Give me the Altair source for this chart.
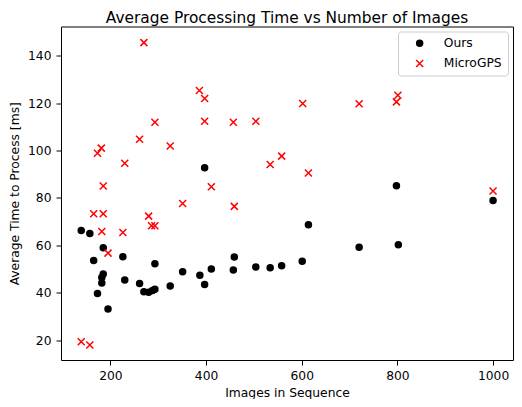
import altair as alt
import pandas as pd

ours_x = [139, 157, 165, 173, 182, 182, 185, 185, 195, 226, 230, 261, 270, 280, 288, 293, 293,
          325, 351, 387, 397, 397, 411, 457, 459, 504, 534, 558, 601, 614, 720, 798, 802, 1000]
ours_y = [66.2, 65.0, 53.6, 39.7, 46.4, 44.1, 59.0, 47.9, 33.1, 55.2, 45.3, 43.9, 40.4, 40.2, 40.9, 41.4, 52.2,
          42.8, 48.8, 47.4, 43.4, 92.7, 50.0, 49.6, 55.1, 50.8, 50.5, 51.4, 53.3, 68.7, 59.2, 85.1, 60.2, 78.9]

gps_x = [139, 157, 165, 173, 181, 182, 185, 185, 195, 226, 230, 261, 270, 280, 286, 293, 293,
         325, 351, 386, 397, 397, 411, 457, 459, 504, 534, 558, 602, 614, 720, 798, 801, 1000]
gps_y = [19.3, 17.9, 73.3, 98.8, 101.0, 65.8, 85.0, 73.3, 56.7, 65.4, 94.6, 104.7, 145.5, 72.3, 68.2, 68.2, 111.9,
         101.9, 77.6, 125.3, 121.9, 112.3, 84.7, 111.9, 76.4, 112.3, 94.1, 97.6, 119.8, 90.5, 119.7, 120.5, 123.3, 82.9]

series = ["Ours", "MicroGPS"]
x_ticks = [200, 400, 600, 800, 1000]
y_ticks = [20, 40, 60, 80, 100, 120, 140]

df = pd.concat([
    pd.DataFrame({"images": ours_x, "time": ours_y, "series": "Ours", "order": 0}),
    pd.DataFrame({"images": gps_x, "time": gps_y, "series": "MicroGPS", "order": 1}),
])

FONT = "DejaVu Sans"
FS = 12.3
legend = alt.Legend(title=None, orient="top-right", offset=5, strokeColor="#cccccc",
                    fillColor="white", cornerRadius=3, padding=5.5, labelFontSize=FS,
                    labelFont=FONT, labelColor="black", labelOffset=18, symbolOffset=10,
                    rowPadding=6.3, symbolStrokeWidth=1.5)

chart = alt.Chart(df).mark_point(filled=False, strokeWidth=1.5, opacity=1).encode(
    x=alt.X("images:Q", title="Images in Sequence",
            scale=alt.Scale(domain=[96.7, 1041.7], nice=False, zero=False),
            axis=alt.Axis(values=x_ticks, format="d")),
    y=alt.Y("time:Q", title="Average Time to Process [ms]",
            scale=alt.Scale(domain=[11.6, 152.3], nice=False, zero=False),
            axis=alt.Axis(values=y_ticks, format="d")),
    shape=alt.Shape("series:N", scale=alt.Scale(domain=series, range=["circle", "M-1,-1L1,1M-1,1L1,-1"]), legend=legend),
    color=alt.Color("series:N", scale=alt.Scale(domain=series, range=["#000000", "#ff0000"]), legend=legend),
    fill=alt.Fill("series:N", scale=alt.Scale(domain=series, range=["#000000", "transparent"]), legend=legend),
    size=alt.Size("series:N", scale=alt.Scale(domain=series, range=[36, 49]), legend=legend),
    order=alt.Order("order:Q"),
).properties(
    width=506, height=391,
    title=alt.TitleParams("Average Processing Time vs Number of Images", fontSize=15.4, font=FONT,
                          fontWeight="normal", color="black", offset=0),
    autosize=alt.AutoSizeParams(type="fit", contains="padding"),
    padding={"left": 0, "top": 2.5, "right": 1, "bottom": 0},
).configure_view(
    stroke="black", strokeWidth=1
).configure_axis(
    grid=False, domain=False, tickColor="black", tickSize=5, tickWidth=1,
    labelFont=FONT, labelFontSize=FS, labelColor="black",
    titleFont=FONT, titleFontSize=FS, titleFontWeight="normal", titleColor="black",
).configure_axisY(titlePadding=6.5, labelPadding=5).configure_axisX(titlePadding=5, labelPadding=4)

chart.save("out.html", embed_options={"renderer": "svg", "actions": False})
